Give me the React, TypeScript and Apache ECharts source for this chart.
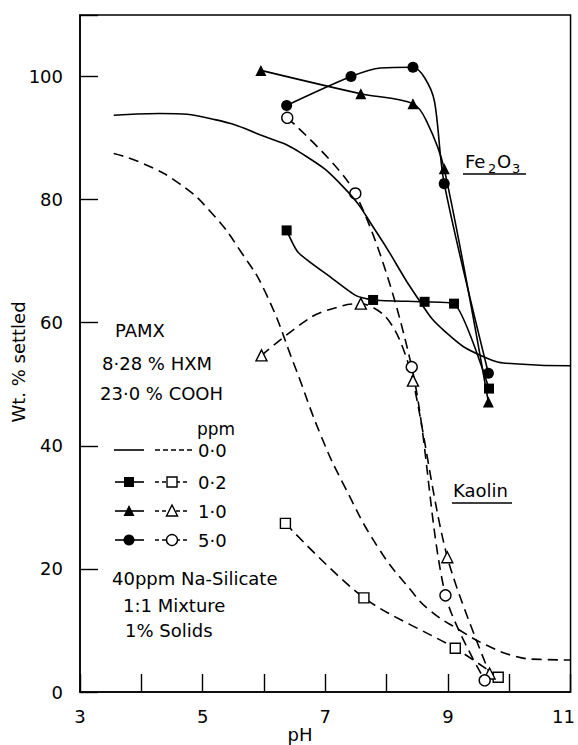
import React, { useEffect, useRef } from "react";
import * as echarts from "echarts";

// ---- Data (x = pH, y = Wt. % settled) ----
// 0.0 ppm (no markers): Fe2O3 (solid) and Kaolin (dashed) fitted curves
const FE_00: number[][] = [
  [3.55, 93.7], [4.3, 94.0], [5.2, 93.0], [6.0, 90.3], [6.6, 87.6], [7.3, 82.0],
  [7.85, 74.5], [8.5, 64.1], [8.95, 58.6], [9.6, 54.4], [10.15, 53.3], [11.0, 53.0],
];
const KAO_00: number[][] = [
  [3.55, 87.5], [4.02, 85.9], [4.62, 82.6], [5.15, 77.8], [5.64, 71.3], [6.03, 64.8],
  [6.5, 53.0], [6.94, 41.4], [7.32, 33.3], [7.86, 23.5], [8.39, 16.6], [8.7, 13.3],
  [9.2, 10.0], [9.65, 7.5], [10.1, 5.8], [10.5, 5.3], [11.0, 5.2],
];
// 0.2 ppm
const FE_02: number[][] = [[6.37, 75.0], [7.78, 63.7], [8.62, 63.4], [9.1, 63.1], [9.67, 49.3]];
const FE_02_BENDS: number[][] = [[6.56, 71.4], [7.1, 67.3], [7.5, 64.4]];
const KAO_02: number[][] = [[6.35, 27.4], [7.63, 15.3], [9.12, 7.1], [9.82, 2.4]];
// 1.0 ppm
const FE_10: number[][] = [[5.95, 101.0], [7.58, 97.2], [8.43, 95.6], [8.94, 85.0], [9.66, 47.1]];
const FE_10_BENDS: number[][] = [[8.65, 92.8]];
const KAO_10: number[][] = [[5.96, 54.7], [7.58, 63.1], [8.43, 50.6], [8.99, 21.9], [9.68, 3.0]];
const KAO_10_BENDS: number[][] = [[6.77, 60.9], [7.3, 62.8], [7.95, 61.3], [8.2, 57.5]];
// 5.0 ppm
const FE_50: number[][] = [[6.37, 95.3], [7.42, 100.0], [8.43, 101.5], [8.94, 82.6], [9.66, 51.8]];
const FE_50_BENDS: number[][] = [[7.9, 101.4], [8.62, 99.8], [8.78, 96.0]];
const KAO_50: number[][] = [[6.38, 93.3], [7.49, 81.0], [8.41, 52.8], [8.96, 15.7], [9.6, 1.9]];

const X_TICK_LABELS = [3, 5, 7, 9, 11];
const Y_TICK_LABELS = [0, 20, 40, 60, 80, 100];

const FONT = '"DejaVu Sans", "Noto Sans", sans-serif';

function build(points: number[][], bends: number[][] = []) {
  return [
    ...points.map((p) => ({ value: p })),
    ...bends.map((p) => ({ value: p, symbol: "none" })),
  ].sort((a, b) => a.value[0] - b.value[0]);
}

function lineSeries(
  name: string,
  data: any[],
  dashed: boolean,
  symbol: string,
  open: boolean,
  size: number | number[] = 10,
  smooth = 0.3
) {
  return {
    name,
    type: "line",
    data,
    smooth,
    symbol,
    symbolSize: size,
    showSymbol: symbol !== "none",
    showAllSymbol: true,
    lineStyle: { color: "#000", width: 1.6, type: dashed ? [10, 6] : "solid" },
    itemStyle: open
      ? { color: "#fff", borderColor: "#000", borderWidth: 1.4 }
      : { color: "#000", borderColor: "#000", borderWidth: 0 },
    z: open ? 3 : 4,
    emphasis: { disabled: true },
  };
}

function text(t: string, x: number, y: number, size = 18, align = "left", extra: any = {}) {
  return {
    type: "text",
    x,
    y,
    ...extra,
    style: {
      text: t,
      font: `${size}px ${FONT}`,
      fill: "#000",
      textAlign: align,
      textVerticalAlign: "middle",
    },
  };
}

function hline(x1: number, x2: number, y: number, dash?: number[]) {
  return {
    type: "line",
    shape: { x1, y1: y, x2, y2: y },
    style: { stroke: "#000", lineWidth: 1.6, lineDash: dash },
  };
}

function marker(kind: string, cx: number, cy: number, open: boolean) {
  const style = open
    ? { fill: "#fff", stroke: "#000", lineWidth: 1.4 }
    : { fill: "#000", stroke: "#000", lineWidth: 0 };
  if (kind === "rect") {
    return { type: "rect", shape: { x: cx - 5, y: cy - 5, width: 10, height: 10 }, style, z: 10 };
  }
  if (kind === "triangle") {
    return {
      type: "polygon",
      shape: { points: [[cx, cy - 6], [cx + 5.5, cy + 5], [cx - 5.5, cy + 5]] },
      style,
      z: 10,
    };
  }
  return { type: "circle", shape: { cx, cy, r: 5.5 }, style, z: 10 };
}

export default function App() {
  const ref = useRef<HTMLDivElement>(null);

  useEffect(() => {
    if (!ref.current) return;
    const chart = echarts.init(ref.current, null, { renderer: "svg" });

    const rows = [
      { y: 450, label: "0·0", kind: "none" },
      { y: 482, label: "0·2", kind: "rect" },
      { y: 511, label: "1·0", kind: "triangle" },
      { y: 540, label: "5·0", kind: "circle" },
    ];
    const legendEls: any[] = [];
    rows.forEach((r) => {
      if (r.kind === "none") {
        legendEls.push(hline(114, 144, r.y));
        legendEls.push(hline(155, 193, r.y, [5, 3]));
      } else {
        legendEls.push(hline(115, 144, r.y));
        legendEls.push(marker(r.kind, 129, r.y, false));
        legendEls.push(hline(155, 188, r.y, [4, 3]));
        legendEls.push(marker(r.kind, 172, r.y, true));
      }
      legendEls.push(text(r.label, 198, r.y, 18));
    });

    const option: any = {
      animation: false,
      backgroundColor: "#fff",
      grid: {
        left: 80,
        top: 15,
        width: 494,
        height: 677,
        show: true,
        borderColor: "#000",
        borderWidth: 1.5,
        backgroundColor: "transparent",
      },
      xAxis: {
        type: "value",
        min: 3,
        max: 11,
        interval: 1,
        axisLine: { show: true, lineStyle: { color: "#000", width: 1.5 } },
        axisTick: { show: true, inside: true, length: 18, lineStyle: { color: "#000", width: 1.4 } },
        splitLine: { show: false },
        axisLabel: {
          color: "#000",
          fontSize: 18,
          fontFamily: FONT,
          margin: 15,
          formatter: (v: number) => {
            const r = Math.round(v);
            if (!(Math.abs(v - r) < 1e-6 && X_TICK_LABELS.includes(r))) return "";
            return r === 11 ? "{edge|11}" : String(r);
          },
          rich: {
            edge: { fontSize: 18, fontFamily: FONT, color: "#000", padding: [0, 14, 0, 0] },
          },
        },
      },
      yAxis: {
        type: "value",
        min: 0,
        max: 110,
        interval: 20,
        axisLine: { show: true, lineStyle: { color: "#000", width: 1.5 } },
        axisTick: { show: true, inside: true, length: 18, lineStyle: { color: "#000", width: 1.4 } },
        splitLine: { show: false },
        axisLabel: {
          color: "#000",
          fontSize: 18,
          fontFamily: FONT,
          margin: 17,
          formatter: (v: number) => {
            const r = Math.round(v);
            return Math.abs(v - r) < 1e-6 && Y_TICK_LABELS.includes(r) ? String(r) : "";
          },
        },
      },
      series: [
        lineSeries("Fe2O3 0.0", build(FE_00), false, "none", false, 10, 0.5),
        lineSeries("Kaolin 0.0", build(KAO_00), true, "none", false, 10, 0.5),
        lineSeries("Fe2O3 0.2", build(FE_02, FE_02_BENDS), false, "rect", false, 10, 0.2),
        lineSeries("Kaolin 0.2", build(KAO_02), true, "rect", true, 10),
        lineSeries("Fe2O3 1.0", build(FE_10, FE_10_BENDS), false, "triangle", false, [11, 11]),
        lineSeries("Kaolin 1.0", build(KAO_10, KAO_10_BENDS), true, "triangle", true, [11, 11]),
        lineSeries("Fe2O3 5.0", build(FE_50, FE_50_BENDS), false, "circle", false, 11),
        lineSeries("Kaolin 5.0", build(KAO_50), true, "circle", true, 11),
      ],
      graphic: [
        text("Wt. % settled", 18, 362, 18, "center", { rotation: Math.PI / 2 }),
        text("pH", 300, 734, 18, "center"),
        text("PAMX", 115, 330, 18),
        text("8·28 % HXM", 102, 363, 18),
        text("23·0 % COOH", 100, 393, 18),
        text("ppm", 216, 429, 17, "center"),
        ...legendEls,
        text("40ppm Na-Silicate", 112, 578, 18),
        text("1:1 Mixture", 123, 605, 18),
        text("1% Solids", 125, 630, 18),
        // Fe2O3 label with subscripts
        text("Fe", 465, 161, 18),
        text("2", 488, 168, 13),
        text("O", 497, 161, 18),
        text("3", 512, 168, 13),
        hline(463, 526, 174),
        // Kaolin label
        text("Kaolin", 453, 490, 18),
        hline(452, 512, 503),
      ],
    };

    chart.setOption(option);
    return () => chart.dispose();
  }, []);

  return (
    <div
      ref={ref}
      style={{ position: "fixed", left: 0, top: 0, width: 578, height: 745, background: "#fff" }}
    />
  );
}
